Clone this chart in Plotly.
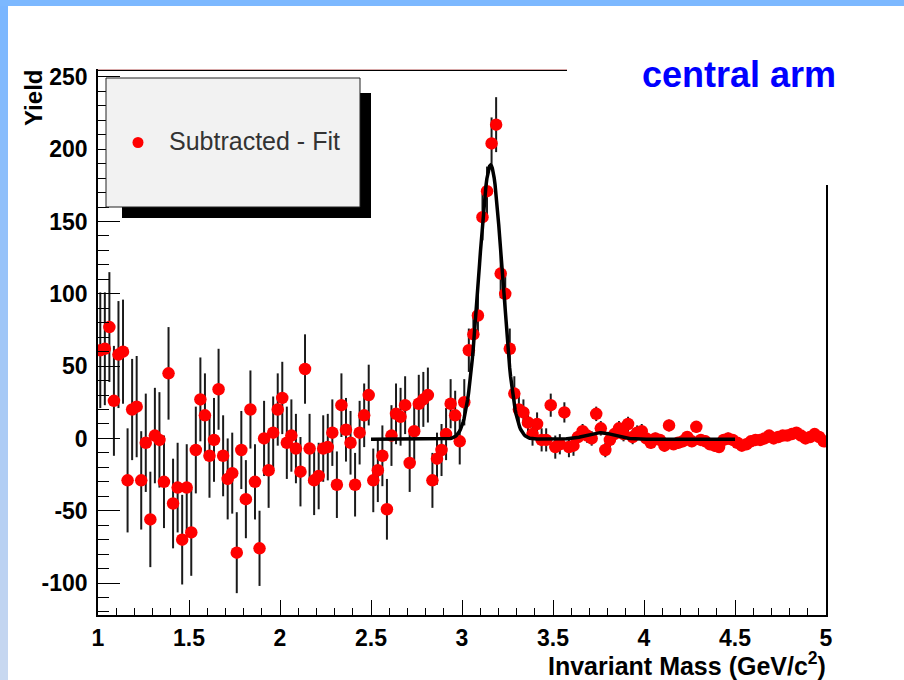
import numpy as np
import plotly.graph_objects as go

# Invariant-mass bin centres: 25 MeV/c^2 bins spanning 1-5 GeV/c^2
mass = np.round(1.0125 + 0.025 * np.arange(160), 4)

# Background-subtracted yield per bin (data minus combinatorial fit)
yield_sub = [
    61, 62, 77, 26, 58, 60, -29, 20, 22, -29,
    -3, -56, 2, -1, -30, 45, -45, -34, -70, -34,
    -65, -8, 27, 16, -12, -1, 34, -12, -28, -24,
    -79, -8, -42, 20, -30, -76, 0, -22, 4, 20,
    28, -3, 2, -7, -23, 48, -7, -29, -26, -7,
    -6, 4, -32, 23, 6, -3, -32, 4, 16, 30,
    -29, -22, -12, -49, 2, 17, 15, 23, -17, 5,
    24, 27, 30, -29, -14, -8, 3, 24, 16, -2,
    25, 61, 72, 85, 153, 171, 204, 217, 114, 100,
    62, 31, 20, 18, 11, 3, 10, -1, -1, 23,
    -6, -4, 18, -6, -5, 1, 5, 2, 0, 17,
    7, -8, -1, 3, 7, 3, 10, 1, 4, 5,
    0, -3, 0, -1, -5, 9, -4, -3, -2, 1,
    -2, 8, -1, -2, -4, -5, -6, -1, 0, -1,
    -3, -5, -4, -2, -1, -1, 0, 2, 0, 1,
    2, 2, 3, 4, 2, 0, 1, 3, 1, -2,
]

# Statistical uncertainty per bin
yield_err = [
    40, 39, 38, 38, 37, 36, 36, 35, 35, 34,
    34, 33, 33, 33, 32, 32, 31, 31, 31, 30,
    30, 30, 29, 29, 29, 29, 28, 28, 28, 28,
    28, 27, 27, 27, 26, 26, 26, 26, 25, 25,
    25, 25, 25, 24, 24, 24, 24, 24, 23, 23,
    23, 23, 23, 22, 22, 22, 22, 22, 22, 21,
    22, 22, 21, 21, 21, 21, 20, 20, 20, 20,
    20, 19, 19, 19, 18, 18, 18, 17, 17, 16,
    16, 15, 15, 15, 16, 17, 18, 19, 17, 16,
    14, 12, 11, 9, 9, 8, 8, 8, 8, 8,
    8, 7, 7, 7, 7, 6, 5, 5, 5, 5,
    5, 5, 5, 5, 5, 5, 5, 5, 5, 5,
    4, 4, 4, 4, 4, 4, 4, 4, 4, 4,
    4, 4, 4, 4, 4, 4, 4, 4, 4, 4,
    3, 3, 3, 3, 3, 3, 3, 3, 3, 3,
    3, 3, 3, 3, 3, 3, 3, 3, 3, 3,
]

# Fit: J/psi and psi' Gaussians on a flat residual, fitted over 2.5-4.5 GeV/c^2
fit_range = (2.5, 4.5)
fit_const = -0.5
jpsi_amp, jpsi_mean, jpsi_sigma = 189.5, 3.157, 0.064
psi2s_amp, psi2s_mean, psi2s_sigma = 4.5, 3.76, 0.075

x_ticks = [1, 1.5, 2, 2.5, 3, 3.5, 4, 4.5, 5]
y_ticks = [-100, -50, 0, 50, 100, 150, 200, 250]

fit_x = np.linspace(fit_range[0], fit_range[1], 400)
fit_y = (fit_const
         + jpsi_amp * np.exp(-0.5 * ((fit_x - jpsi_mean) / jpsi_sigma) ** 2)
         + psi2s_amp * np.exp(-0.5 * ((fit_x - psi2s_mean) / psi2s_sigma) ** 2))

W, H = 904, 680
L, R, T, B = 98, 826, 71, 615   # plot-area edges in pixels


def px(p):
    return (p - L) / (R - L)


def py(p):
    return (B - p) / (B - T)


TICKFONT = dict(family="Liberation Sans, Arial, sans-serif", size=23, color="black", weight="bold")

fig = go.Figure()
fig.add_trace(go.Scatter(
    x=mass, y=yield_sub, mode="markers", name="Subtracted - Fit",
    marker=dict(color="#ff0000", size=12.5, line=dict(width=0)),
    error_y=dict(type="data", array=yield_err, color="#1a1a1a", thickness=2, width=0),
))
fig.add_trace(go.Scatter(
    x=fit_x, y=fit_y, mode="lines", name="fit",
    line=dict(color="black", width=3.5),
))

shapes = []
# slide frame: blue strip along the top and a fading strip down the left edge
n = 34
for i in range(n):
    t = i / (n - 1)
    r = int(122 + (200 - 122) * t)
    g = int(182 + (216 - 182) * t)
    b = int(255 + (240 - 255) * t)
    shapes.append(dict(type="rect", xref="paper", yref="paper",
                       x0=px(0), x1=px(8), y0=py(i * H / n), y1=py((i + 1) * H / n + 1),
                       fillcolor=f"rgb({r},{g},{b})", line=dict(width=0), layer="above"))
shapes.append(dict(type="rect", xref="paper", yref="paper",
                   x0=px(0), x1=px(W), y0=py(0), y1=py(6),
                   fillcolor="#7cb8ff", line=dict(width=0), layer="above"))
# title panel in the upper right
shapes.append(dict(type="rect", xref="paper", yref="paper",
                   x0=px(567), x1=px(W), y0=py(6), y1=py(185),
                   fillcolor="white", line=dict(width=0), layer="above"))
shapes.append(dict(type="line", xref="paper", yref="paper",
                   x0=px(98), x1=px(567), y0=py(69.5), y1=py(69.5),
                   line=dict(color="#d8a8a8", width=1), layer="above"))
# legend box with drop shadow
shapes.append(dict(type="rect", xref="paper", yref="paper",
                   x0=px(122), x1=px(371), y0=py(93), y1=py(218),
                   fillcolor="black", line=dict(width=0), layer="above"))
shapes.append(dict(type="rect", xref="paper", yref="paper",
                   x0=px(106), x1=px(360), y0=py(78), y1=py(207),
                   fillcolor="#f2f2f2", line=dict(color="#222222", width=1), layer="above"))
shapes.append(dict(type="circle", xref="paper", yref="paper",
                   x0=px(132.5), x1=px(143.5), y0=py(137), y1=py(148),
                   fillcolor="#ff0000", line=dict(width=0), layer="above"))

annotations = [
    dict(text="Subtracted - Fit", xref="paper", yref="paper", x=px(167), y=py(141),
         xanchor="left", yanchor="middle", showarrow=False,
         font=dict(family="Liberation Sans, Arial, sans-serif", size=25, color="#333333")),
    dict(text="central arm", xref="paper", yref="paper", x=px(739), y=py(75),
         xanchor="center", yanchor="middle", showarrow=False,
         font=dict(family="Liberation Sans, Arial, sans-serif", size=36, color="#0000ff", weight="bold")),
    dict(text="Yield", xref="paper", yref="paper", x=px(34), y=py(68),
         xanchor="center", yanchor="top", textangle=-90, showarrow=False,
         font=dict(family="Liberation Sans, Arial, sans-serif", size=24, color="black", weight="bold")),
    dict(text="Invariant Mass (GeV/c<sup>2</sup>)", xref="paper", yref="paper", x=px(828), y=py(664),
         xanchor="right", yanchor="middle", showarrow=False,
         font=dict(family="Liberation Sans, Arial, sans-serif", size=25, color="black", weight="bold")),
]

fig.update_layout(
    width=W, height=H,
    margin=dict(l=L, r=W - R, t=T, b=H - B, pad=0),
    paper_bgcolor="white", plot_bgcolor="white",
    showlegend=False,
    shapes=shapes, annotations=annotations,
    xaxis=dict(
        range=[1, 5], tickvals=x_ticks, ticktext=[f"{v:g}" for v in x_ticks],
        ticks="inside", ticklen=15, tickwidth=1.2, tickcolor="black",
        minor=dict(dtick=0.1, tick0=1, ticks="inside", ticklen=7, tickwidth=1.2, tickcolor="black"),
        showline=True, linecolor="black", linewidth=1.5, mirror=True,
        showgrid=False, zeroline=False, tickfont=TICKFONT, ticklabelstandoff=2,
    ),
    yaxis=dict(
        range=[-122.1, 254.1], tickvals=y_ticks, ticktext=[str(v) for v in y_ticks],
        ticks="inside", ticklen=22, tickwidth=1.2, tickcolor="black",
        minor=dict(dtick=10, tick0=0, ticks="inside", ticklen=11, tickwidth=1.2, tickcolor="black"),
        showline=True, linecolor="black", linewidth=1.5, mirror=True,
        showgrid=False, zeroline=False, tickfont=TICKFONT, ticklabelstandoff=4,
    ),
)

fig.write_html("out.html")
